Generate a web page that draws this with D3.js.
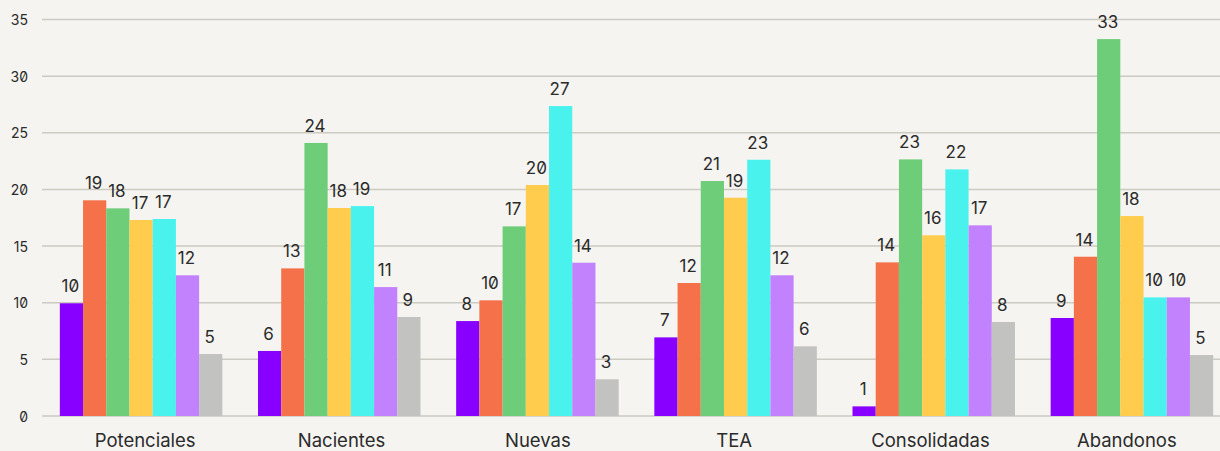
<!DOCTYPE html>
<html>
<head>
<meta charset="utf-8">
<script src="https://cdn.jsdelivr.net/npm/d3@7"></script>
<style>
  html, body { margin: 0; padding: 0; background: #f5f4f0; }
  svg { display: block; font-family: Inter, "Noto Sans", sans-serif; font-feature-settings: "zero" 1; }
</style>
</head>
<body>
<svg id="chart" width="1220" height="451"></svg>
<script>
// Categories and series
const categories = ["Potenciales", "Nacientes", "Nuevas", "TEA", "Consolidadas", "Abandonos"];
const seriesNames = ["s1", "s2", "s3", "s4", "s5", "s6", "s7"];
const seriesColors = ["#8800ff", "#f4714a", "#6ecd78", "#ffcc4d", "#4af2ee", "#c382fd", "#c2c2c0"];

// One array per series, one value per category
const s1 = [9.95, 5.74, 8.38, 6.94, 0.85, 8.65];
const s2 = [19.04, 13.03, 10.21, 11.74, 13.56, 14.06];
const s3 = [18.33, 24.1, 16.74, 20.74, 22.65, 33.27];
const s4 = [17.3, 18.36, 20.39, 19.27, 15.95, 17.65];
const s5 = [17.39, 18.53, 27.36, 22.62, 21.77, 10.47];
const s6 = [12.42, 11.38, 13.53, 12.42, 16.83, 10.47];
const s7 = [5.47, 8.74, 3.24, 6.15, 8.3, 5.38];
const seriesValues = [s1, s2, s3, s4, s5, s6, s7];

const yTicks = [0, 5, 10, 15, 20, 25, 30, 35];

const svg = d3.select("#chart");
const W = 1220, H = 451;

const plotLeft = 42, plotRight = 1231, plotTop = 19.5, plotBottom = 416;

const x0 = d3.scaleBand().domain(categories).range([plotLeft, plotRight]).paddingInner(0.18).paddingOuter(0.09);
const x1 = d3.scaleBand().domain(seriesNames).range([0, x0.bandwidth()]);
const xLabel = d3.scaleBand().domain(categories).range([47, 1225]);
const y = d3.scaleLinear().domain([0, 35]).range([plotBottom, plotTop]);

svg.append("rect").attr("width", W).attr("height", H).attr("fill", "#f5f4f0");

// Horizontal gridlines
svg.append("g")
  .selectAll("line")
  .data(yTicks)
  .join("line")
  .attr("x1", plotLeft).attr("x2", W)
  .attr("y1", d => y(d)).attr("y2", d => y(d))
  .attr("stroke", "#cdcac2")
  .attr("stroke-width", 1.5);

// Y tick labels
svg.append("g")
  .selectAll("text")
  .data(yTicks)
  .join("text")
  .attr("x", 28)
  .attr("y", d => y(d))
  .attr("dy", "0.4em")
  .attr("text-anchor", "end")
  .attr("font-size", 14)
  .attr("fill", "#2b2b2b")
  .text(d => d);

// Bars grouped per category
const groups = svg.append("g")
  .selectAll("g")
  .data(categories)
  .join("g")
  .attr("transform", d => `translate(${x0(d)},0)`);

const cells = groups.selectAll("g")
  .data((c, ci) => seriesNames.map((s, si) => ({ s, si, v: seriesValues[si][ci] })))
  .join("g");

cells.append("rect")
  .attr("x", d => x1(d.s))
  .attr("width", x1.bandwidth())
  .attr("y", d => y(d.v))
  .attr("height", d => y(0) - y(d.v))
  .attr("fill", d => seriesColors[d.si]);

const fmt = d3.format(".0f");
cells.append("text")
  .attr("x", d => x1(d.s) + x1.bandwidth() / 2 - 1)
  .attr("y", d => y(d.v) - 11)
  .attr("text-anchor", "middle")
  .attr("font-size", 17)
  .attr("fill", "#2b2b2b")
  .text(d => fmt(d.v));

// Category labels
svg.append("g")
  .selectAll("text")
  .data(categories)
  .join("text")
  .attr("x", d => xLabel(d) + xLabel.bandwidth() / 2)
  .attr("y", 447)
  .attr("text-anchor", "middle")
  .attr("font-size", 18.5)
  .attr("fill", "#2b2b2b")
  .text(d => d);
</script>
</body>
</html>
